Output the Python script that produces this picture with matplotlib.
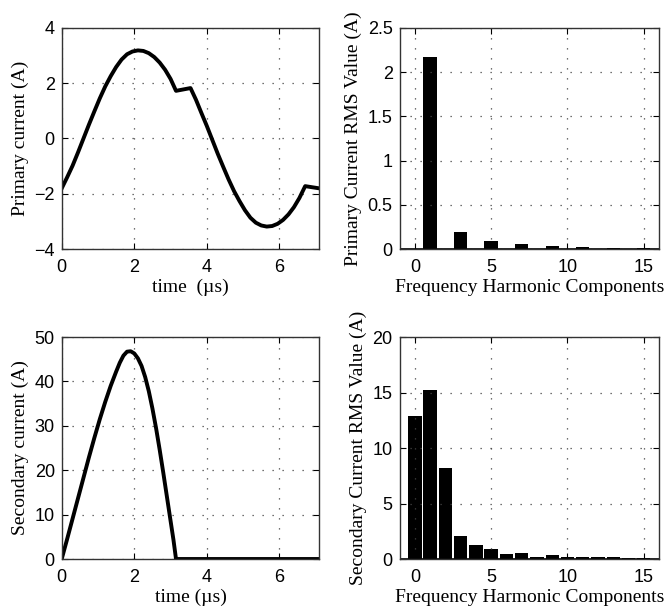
import matplotlib.pyplot as plt

# primary current waveform (time in us, current in A)
t_prim = [0.00, 0.15, 0.30, 0.45, 0.60, 0.75, 0.90, 1.05, 1.20, 1.35, 1.50,
          1.65, 1.80, 1.95, 2.10, 2.25, 2.40, 2.55, 2.70, 2.85, 3.00, 3.15,
          3.35, 3.55, 3.70, 3.85, 4.00, 4.15, 4.30, 4.45, 4.60, 4.75, 4.90,
          5.05, 5.20, 5.35, 5.50, 5.65, 5.80, 5.95, 6.10, 6.25, 6.40, 6.55,
          6.71, 6.90, 7.10]
i_prim = [-1.80, -1.40, -0.98, -0.50, 0.00, 0.50, 0.98, 1.45, 1.88, 2.25, 2.58,
          2.85, 3.04, 3.14, 3.18, 3.16, 3.08, 2.94, 2.74, 2.48, 2.15, 1.72,
          1.77, 1.82, 1.40, 0.92, 0.45, -0.05, -0.55, -1.02, -1.48, -1.90, -2.26,
          -2.59, -2.86, -3.04, -3.14, -3.18, -3.16, -3.08, -2.94, -2.74, -2.48, -2.15,
          -1.72, -1.76, -1.80]

# secondary current waveform
t_sec = [0.00, 0.15, 0.30, 0.45, 0.60, 0.75, 0.90, 1.05, 1.20, 1.35, 1.50,
         1.60, 1.70, 1.80, 1.90, 2.00, 2.10, 2.20, 2.30, 2.40, 2.50, 2.60,
         2.70, 2.80, 2.90, 3.00, 3.08, 3.15, 7.10]
i_sec = [0.0, 4.5, 9.1, 13.7, 18.3, 22.9, 27.3, 31.5, 35.4, 39.0, 42.2,
         44.2, 45.8, 46.7, 46.8, 46.3, 45.2, 43.5, 41.0, 37.8, 33.9, 29.5,
         24.6, 19.4, 14.0, 8.6, 4.3, 0.0, 0.0]

# harmonic RMS values
harm = list(range(16))
prim_rms = [0.004, 2.17, 0, 0.20, 0, 0.098, 0, 0.06, 0, 0.041, 0, 0.023, 0, 0.015, 0, 0.011]
sec_rms = [12.9, 15.2, 8.2, 2.07, 1.3, 0.9, 0.43, 0.52, 0.19, 0.34, 0.15, 0.22,
           0.15, 0.15, 0.12, 0.08]

tick_font = 'Liberation Sans'
label_font = 'Liberation Serif'
label_size = 14

fig = plt.figure(figsize=(6.65, 6.11), dpi=100)
ax1 = fig.add_axes([0.0928, 0.592, 0.3874, 0.3627])
ax2 = fig.add_axes([0.601, 0.592, 0.390, 0.3627])
ax3 = fig.add_axes([0.0928, 0.0851, 0.3874, 0.3633])
ax4 = fig.add_axes([0.601, 0.0851, 0.390, 0.3633])


def style(ax):
    ax.grid(True, linestyle=(0, (1, 7)), color='#444444', linewidth=0.9)
    ax.tick_params(direction='in', top=True, right=True, length=4,
                   labelsize=13, colors='black')
    ax.tick_params(axis='x', pad=7)
    ax.tick_params(axis='y', pad=5)
    for lab in ax.get_xticklabels() + ax.get_yticklabels():
        lab.set_fontfamily(tick_font)
    for s in ax.spines.values():
        s.set_color('#333333')
        s.set_linewidth(1.0)


ax1.plot(t_prim, i_prim, color='black', linewidth=2.8, solid_joinstyle='round')
ax1.set_xlim(0, 7.1)
ax1.set_ylim(-4, 4)
ax1.set_xticks([0, 2, 4, 6])
ax1.set_yticks([-4, -2, 0, 2, 4])
ax1.set_yticklabels(['\u22124', '\u22122', '0', '2', '4'])
ax1.set_xlabel('time  (\u00b5s)', fontfamily=label_font, fontsize=label_size, labelpad=2)
ax1.set_ylabel('Primary current (A)', fontfamily=label_font, fontsize=label_size, labelpad=4)
style(ax1)

ax2.bar(harm, prim_rms, width=0.88, color='black')
ax2.axhline(0, color='black', linewidth=1.2)
ax2.set_xlim(-1, 16)
ax2.set_ylim(0, 2.5)
ax2.set_xticks([0, 5, 10, 15])
ax2.set_yticks([0, 0.5, 1, 1.5, 2, 2.5])
ax2.set_yticklabels(['0', '0.5', '1', '1.5', '2', '2.5'])
ax2.set_xlabel('Frequency Harmonic Components', fontfamily=label_font, fontsize=label_size, labelpad=2)
ax2.set_ylabel('Primary Current RMS Value (A)', fontfamily=label_font, fontsize=label_size, labelpad=4)
style(ax2)

ax3.plot(t_sec, i_sec, color='black', linewidth=2.8, solid_joinstyle='round')
ax3.set_xlim(0, 7.1)
ax3.set_ylim(0, 50)
ax3.set_xticks([0, 2, 4, 6])
ax3.set_yticks([0, 10, 20, 30, 40, 50])
ax3.set_xlabel('time (\u00b5s)', fontfamily=label_font, fontsize=label_size, labelpad=2)
ax3.set_ylabel('Secondary current (A)', fontfamily=label_font, fontsize=label_size, labelpad=4)
style(ax3)

ax4.bar(harm, sec_rms, width=0.88, color='black')
ax4.axhline(0, color='black', linewidth=1.2)
ax4.set_xlim(-1, 16)
ax4.set_ylim(0, 20)
ax4.set_xticks([0, 5, 10, 15])
ax4.set_yticks([0, 5, 10, 15, 20])
ax4.set_xlabel('Frequency Harmonic Components', fontfamily=label_font, fontsize=label_size, labelpad=2)
ax4.set_ylabel('Secondary Current RMS Value (A)', fontfamily=label_font, fontsize=label_size, labelpad=4)
style(ax4)

fig.savefig('out.png', dpi=100)
